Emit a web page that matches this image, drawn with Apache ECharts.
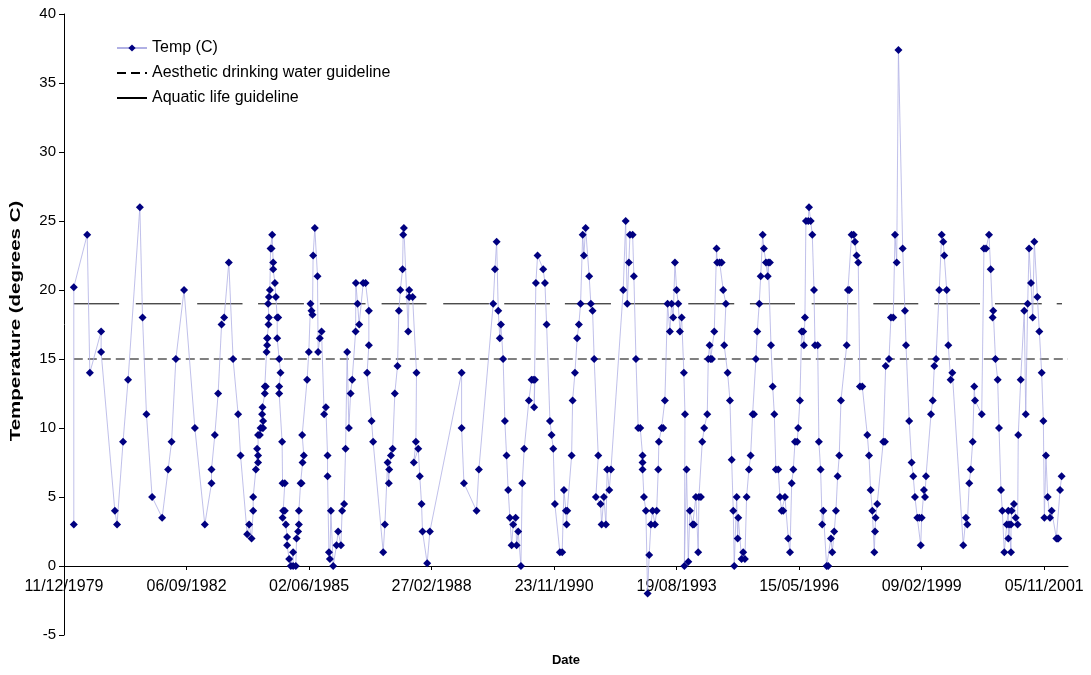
<!DOCTYPE html>
<html>
<head>
<meta charset="utf-8">
<script src="https://cdn.jsdelivr.net/npm/echarts@6/dist/echarts.min.js"></script>
<style>
html,body{margin:0;padding:0;background:#fff;}
#chart{width:1091px;height:675px;}
</style>
</head>
<body>
<div id="chart"></div>
<script>
// Sample dates, as days after 11/12/1979
const sampleDays = [
80,80,189,211,303,303,415,433,482,523,619,641,673,719,801,850,878,913,980,1068,
1149,1204,1204,1231,1258,1286,1307,1345,1380,1421,1441,1495,1511,1531,1544,1544,1566,1576,1584,1584,
1584,1598,1604,1617,1625,1625,1617,1620,1639,1639,1647,1653,1658,1658,1661,1669,1672,1666,1672,1680,
1686,1694,1699,1707,1707,1721,1729,1740,1748,1740,1756,1767,1756,1756,1780,1784,1802,1789,1802,1784,
1811,1821,1821,1838,1851,1870,1870,1892,1898,1911,1917,1917,1931,1939,1947,1957,1944,1984,1998,2012,
2020,2028,2033,2047,2069,2074,2088,2102,2123,2137,2151,2151,2162,2170,2178,2197,2224,2237,2260,2270,
2286,2298,2311,2325,2339,2352,2380,2382,2396,2409,2442,2461,2488,2488,2474,2510,2523,2605,2619,2641,
2651,2654,2668,2682,2700,2722,2733,2745,2763,2768,2774,2809,2817,2817,2845,2877,2872,2855,2891,2904,
2918,2926,2964,2986,3245,3245,3264,3367,3386,3503,3517,3531,3544,3557,3566,3584,3598,3612,3625,3639,
3653,3666,3686,3694,3707,3729,3740,3756,3794,3816,3829,3843,3837,3851,3865,3911,3925,3939,3966,3979,
3993,4006,4047,4066,4080,4096,4102,4107,4143,4151,4170,4188,4202,4216,4233,4243,4257,4286,4300,4314,
4327,4360,4341,4379,4388,4406,4423,4433,4450,4464,4564,4584,4597,4610,4619,4641,4651,4668,4686,4703,
4722,4722,4722,4733,4749,4763,4776,4790,4804,4823,4837,4850,4855,4877,4890,4904,4926,4945,4959,4972,
4986,5000,5013,5027,5041,5059,5068,5063,5081,5095,5108,5131,5141,5157,5176,5182,5198,5209,5225,5250,
5258,5269,5277,5288,5307,5326,5331,5351,5367,5380,5402,5388,5416,5435,5449,5462,5470,5490,5498,5503,
5530,5543,5557,5571,5590,5604,5620,5631,5647,5658,5674,5686,5702,5712,5729,5743,5748,5761,5770,5784,
5797,5810,5829,5843,5857,5870,5884,5911,5925,5939,5952,5966,5984,5992,6006,6020,6033,6039,6047,6055,
6074,6080,6094,6107,6121,6129,6151,6161,6175,6188,6197,6224,6237,6259,6270,6286,6300,6314,6327,6341,
6388,6398,6409,6428,6445,6455,6469,6482,6496,6515,6556,6570,6583,6597,6613,6619,6624,6637,6686,6700,
6706,6733,6749,6768,6782,6796,6810,6845,6863,6872,6898,6918,6931,6945,6964,6980,6992,7000,7018,7027,
7035,7076,7090,7103,7117,7143,7163,7176,7184,7204,7217,7236,7250,7339,7361,7372,7388,7400,7416,7429,
7435,7490,7508,7525,7549,7563,7579,7584,7602,7620,7631,7647,7658,7674,7694,7707,7707,7713,7729,7729,
7734,7753,7767,7783,7788,7808,7837,7849,7865,7876,7892,7906,7919,7944,7960,7979,7993,8001,8014,8028,
8047,8061,8099,8107,8115,8129,8142
];
// Temperature (C) at each sample
const tempValues = [
3.0,20.2,24.0,14.0,17.0,15.5,4.0,3.0,9.0,13.5,26.0,18.0,11.0,5.0,3.5,7.0,9.0,15.0,20.0,10.0,
3.0,6.0,7.0,9.5,12.5,17.5,18.0,22.0,15.0,11.0,8.0,2.3,3.0,2.0,4.0,5.0,7.0,8.5,7.5,8.0,
9.5,9.5,10.0,10.0,10.0,10.5,11.0,11.5,12.5,13.0,13.0,15.5,16.0,16.5,16.5,17.5,18.0,19.0,19.5,20.0,
23.0,23.0,24.0,22.0,21.5,20.5,19.5,18.0,18.0,16.5,15.0,14.0,13.0,12.5,9.0,6.0,6.0,4.0,4.0,3.5,
3.0,2.1,1.5,0.5,0.0,1.0,0.0,0.0,2.0,2.5,3.0,4.0,6.0,6.0,7.5,8.0,9.5,13.5,15.5,19.0,
18.5,18.2,22.5,24.5,21.0,15.5,16.5,17.0,11.0,11.5,8.0,6.5,1.0,0.5,4.0,0.0,1.5,2.5,1.5,4.0,
4.5,8.5,15.5,10.0,12.5,13.5,17.0,20.5,19.0,17.5,20.5,20.5,18.5,16.0,14.0,10.5,9.0,1.0,3.0,7.5,
6.0,7.0,8.0,8.5,12.5,14.5,18.5,20.0,21.5,24.0,24.5,17.0,20.0,19.5,19.5,14.0,9.0,7.5,8.5,6.5,
4.5,2.5,0.2,2.5,14.0,10.0,6.0,4.0,7.0,19.0,21.5,23.5,18.5,16.5,17.5,15.0,10.5,8.0,5.5,3.5,
1.5,3.0,3.5,1.5,2.5,0.0,6.0,8.5,12.0,13.5,13.5,13.5,11.5,20.5,22.5,21.5,20.5,17.5,10.5,9.5,
8.5,4.5,1.0,1.0,5.5,4.0,3.0,4.0,8.0,12.0,14.0,16.5,17.5,19.0,24.0,22.5,24.5,21.0,19.0,18.5,
15.0,8.0,5.0,4.5,3.0,5.0,3.0,7.0,5.5,7.0,20.0,25.0,19.0,22.0,24.0,24.0,21.0,15.0,10.0,10.0,
8.0,7.5,7.0,5.0,4.0,-2.0,0.8,3.0,4.0,3.0,4.0,7.0,9.0,10.0,10.0,12.0,19.0,17.0,19.0,18.0,
22.0,20.0,19.0,17.0,18.0,14.0,11.0,0.0,7.0,0.3,4.0,3.0,3.0,5.0,1.0,5.0,5.0,9.0,10.0,11.0,
15.0,16.0,15.0,15.0,17.0,23.0,22.0,22.0,22.0,20.0,19.0,16.0,14.0,12.0,7.7,4.0,0.0,5.0,2.0,3.5,
0.5,1.0,0.5,5.0,7.0,8.0,11.0,11.0,15.0,17.0,19.0,21.0,24.0,23.0,22.0,21.0,22.0,22.0,16.0,13.0,
11.0,7.0,7.0,5.0,4.0,4.0,5.0,2.0,1.0,6.0,7.0,9.0,9.0,10.0,12.0,17.0,17.0,16.0,18.0,25.0,
25.0,26.0,25.0,24.0,20.0,16.0,16.0,9.0,7.0,3.0,4.0,0.0,0.0,2.0,1.0,2.5,4.0,6.5,8.0,12.0,
16.0,20.0,20.0,24.0,24.0,23.5,22.5,22.0,13.0,13.0,9.5,8.0,5.5,4.0,1.0,2.5,3.5,4.5,9.0,9.0,
14.5,15.0,18.0,18.0,24.0,22.0,37.4,23.0,18.5,16.0,10.5,7.5,6.5,5.0,3.5,3.5,1.5,3.5,5.5,5.0,
6.5,11.0,12.0,14.5,15.0,20.0,24.0,23.5,22.5,20.0,16.0,13.5,14.0,1.5,3.5,3.0,6.0,7.0,9.0,13.0,
12.0,11.0,23.0,23.0,24.0,21.5,18.0,18.5,15.0,13.5,10.0,5.5,4.0,1.0,3.0,4.0,2.0,3.0,1.0,3.0,
4.0,4.5,3.5,3.0,9.5,13.5,18.5,11.0,19.0,23.0,20.5,18.0,23.5,19.5,17.0,14.0,10.5,3.5,8.0,5.0,
3.5,4.0,2.0,2.0,2.0,5.5,6.5
];
// Guidelines
const aestheticGuideline = 15;
const aestheticSpan = [80, 8194];
const aquaticGuideline = 19;
const aquaticSpans = [
[80,450],[586,953],[1087,1457],[1584,1958],[2088,2461],[2592,2959],[3095,3468],[3593,3966],
[4088,4464],[4597,4970],[5095,5470],[5598,5966],[6102,6469],[6605,6972],[7103,7476],[7598,7980],[8102,8145]
];
// Axis ticks
const xTickDays = [0,1000,2000,3000,4000,5000,6000,7000,8000];
const xTickLabels = ['11/12/1979','06/09/1982','02/06/1985','27/02/1988','23/11/1990','19/08/1993','15/05/1996','09/02/1999','05/11/2001'];
const xMaxDay = 8194;
const yMin = -5, yMax = 40, yStep = 5;

const seriesNames = ['Temp (C)','Aesthetic drinking water guideline','Aquatic life guideline'];
const yTitle = 'Temperature (degrees C)';

const tempData = sampleDays.map((d,i)=>[d,tempValues[i]]);
const aestheticData = aestheticSpan.map(d=>[d,aestheticGuideline]);
const aquaticData = [];
aquaticSpans.forEach((s,i)=>{
  aquaticData.push([s[0],aquaticGuideline],[s[1],aquaticGuideline]);
  if(i<aquaticSpans.length-1) aquaticData.push([(s[1]+aquaticSpans[i+1][0])/2,null]);
});

// layout
const GRID = {left:64,right:23,top:14,bottom:40};
const plotH = 675-GRID.top-GRID.bottom;
const zeroOffset = -plotH*(0-yMin)/(yMax-yMin); // move x axis up to y=0

const FONT = '"Liberation Sans", Arial, sans-serif';
const hidden = {color:'rgba(0,0,0,0)',borderWidth:0,opacity:0};
const chart = echarts.init(document.getElementById('chart'), null, {renderer:'canvas'});
chart.setOption({
  backgroundColor:'#ffffff',
  animation:false,
  textStyle:{fontFamily:FONT,color:'#000'},
  grid:Object.assign({containLabel:false,outerBoundsMode:'none'},GRID),
  graphic:[{
    type:'text', x:16, y:321, rotation:Math.PI/2, scaleX:1.46, scaleY:1,
    style:{text:yTitle, font:'bold 14px "Liberation Sans", Arial, sans-serif',
      fill:'#000', align:'center', verticalAlign:'middle'}
  }],
  legend:{
    orient:'vertical', left:111, top:35, itemGap:9, itemWidth:30, itemHeight:9,
    textStyle:{fontFamily:FONT,fontSize:16,color:'#000',lineHeight:16},
    data:[
      {name:seriesNames[0]},
      {name:seriesNames[1],itemStyle:hidden},
      {name:seriesNames[2],itemStyle:hidden}
    ]
  },
  xAxis:{
    type:'value', min:0, max:xMaxDay, interval:1000,
    offset:zeroOffset,
    name:'Date', nameLocation:'middle', nameGap:88,
    nameTextStyle:{fontFamily:FONT,fontSize:13,fontWeight:'bold',color:'#000'},
    axisLine:{onZero:false,lineStyle:{color:'#000',width:1}},
    axisTick:{show:true,inside:false,length:4,lineStyle:{color:'#000'},customValues:xTickDays},
    axisLabel:{show:true,margin:13,fontFamily:FONT,fontSize:16,color:'#000',
      customValues:xTickDays,
      formatter:function(v){const i=xTickDays.indexOf(v);return i>=0?xTickLabels[i]:'';}},
    splitLine:{show:false}
  },
  yAxis:{
    type:'value', min:yMin, max:yMax, interval:yStep,
    axisLine:{show:true,onZero:false,lineStyle:{color:'#000',width:1}},
    axisTick:{show:true,inside:false,length:5,lineStyle:{color:'#000'}},
    axisLabel:{margin:8,fontFamily:FONT,fontSize:15,color:'#000'},
    splitLine:{show:false}
  },
  series:[
    {
      name:seriesNames[0], type:'line', data:tempData,
      symbol:'diamond', symbolSize:8, showSymbol:true,
      lineStyle:{color:'#b0b0e4',width:0.8},
      itemStyle:{color:'#000080',borderWidth:0},
      z:5
    },
    {
      name:seriesNames[1], type:'line', data:aestheticData,
      symbol:'none', lineStyle:{color:'#000',width:1,type:[9,5]},
      itemStyle:{color:'#000'}, z:3
    },
    {
      name:seriesNames[2], type:'line', data:aquaticData,
      symbol:'none', connectNulls:false, lineStyle:{color:'#000',width:1,type:'solid'},
      itemStyle:{color:'#000'}, z:3
    }
  ]
});
</script>
</body>
</html>
